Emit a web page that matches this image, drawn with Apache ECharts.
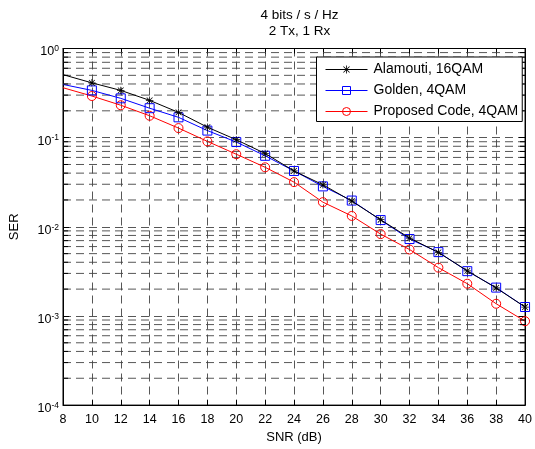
<!DOCTYPE html>
<html><head><meta charset="utf-8">
<script src="https://cdn.jsdelivr.net/npm/echarts@6/dist/echarts.min.js"></script>
<style>html,body{margin:0;padding:0;background:#fff}#c{width:535px;height:449px}</style>
</head><body><div id="c"></div>
<script>
var snr = [8,10,12,14,16,18,20,22,24,26,28,30,32,34,36,38,40];
var alamouti = [0.509,0.412,0.339,0.262,0.192,0.131,0.0948,0.0664,0.0423,0.0296,0.0194,0.0120,0.00748,0.00515,0.00321,0.00206,0.00126];
var golden   = [0.395,0.339,0.276,0.214,0.169,0.120,0.0893,0.0626,0.0423,0.0284,0.0197,0.0119,0.00729,0.00520,0.00318,0.00208,0.00126];
var proposed = [0.363,0.293,0.231,0.176,0.128,0.0908,0.0652,0.0465,0.0317,0.0189,0.01324,0.00828,0.00556,0.00348,0.00230,0.00137,0.000873];
var seriesNames = ['Alamouti, 16QAM','Golden, 4QAM','Proposed Code, 4QAM'];
var titleLines = ['4 bits / s / Hz','2 Tx, 1 Rx'];
var decades = [-4,-3,-2,-1];
var minorMult = [2,3,4,5,6,7,8,9];
var xRange = [8, 40];

var FONT = 'Liberation Sans, Arial, sans-serif';
var starPath = 'path://M0,4.5H10V5.5H0Z M4.5,0H5.5V10H4.5Z M1.5,0.8L9.2,8.5L8.5,9.2L0.8,1.5Z M8.5,0.8L9.2,1.5L1.5,9.2L0.8,8.5Z';
var dash = [8,5];
var gridColor = '#444';
var gridWidth = 0.9;
var minorTickFrac = 0.011; // minor tick length as a fraction of x range

function pts(arr){
  return snr.map(function(x,i){
    var d = {value:[x, arr[i]]};
    if (i === 0) d.symbol = 'none';
    return d;
  });
}
var tl = (xRange[1]-xRange[0]) * minorTickFrac;
var minorSeries = [];
decades.forEach(function(e){
  minorMult.forEach(function(m){
    var v = m*Math.pow(10,e);
    minorSeries.push({
      type: 'line', silent: true, z: 1, symbol: 'none', legendHoverLink: false,
      data: [[xRange[0], v], [xRange[1], v]],
      lineStyle: {color: gridColor, type: dash, width: gridWidth}
    });
    minorSeries.push({
      type: 'line', silent: true, z: 6, symbol: 'none',
      data: [[xRange[0], v], [xRange[0] + tl, v]],
      lineStyle: {color: '#000', width: 1}
    });
    minorSeries.push({
      type: 'line', silent: true, z: 6, symbol: 'none',
      data: [[xRange[1] - tl, v], [xRange[1], v]],
      lineStyle: {color: '#000', width: 1}
    });
  });
});

var chart = echarts.init(document.getElementById('c'), null, {renderer:'canvas'});
var yLabel = {
  fontFamily: FONT, color:'#000', margin: 4, padding: [6,0,0,0],
  formatter: function(v){ var e = Math.round(Math.log10(v)); return '{b|10}{s|' + e + '}'; },
  rich: {
    b: {fontSize: 12.5, fontFamily: FONT, color:'#000', lineHeight: 14, verticalAlign:'bottom'},
    s: {fontSize: 8.5, fontFamily: FONT, color:'#000', lineHeight: 14, verticalAlign:'top', padding:[0,0,5,0]}
  }
};
var mainSeries = [
  {
    name: seriesNames[0], type: 'line', data: pts(alamouti), z: 5,
    symbol: starPath, symbolSize: 7.5,
    lineStyle: {color:'#000', width: 1}, itemStyle: {color:'#000'}
  },
  {
    name: seriesNames[1], type: 'line', data: pts(golden), z: 4,
    symbol: 'rect', symbolSize: 9,
    lineStyle: {color:'#0000ff', width: 1},
    itemStyle: {color:'rgba(0,0,0,0)', borderColor:'#0000ff', borderWidth: 1}
  },
  {
    name: seriesNames[2], type: 'line', data: pts(proposed), z: 3,
    symbol: 'circle', symbolSize: 9,
    lineStyle: {color:'#ff0000', width: 1},
    itemStyle: {color:'rgba(0,0,0,0)', borderColor:'#ff0000', borderWidth: 1}
  }
];
chart.setOption({
  animation: false,
  backgroundColor: '#fff',
  title: {
    text: titleLines.join('\n'),
    left: 294.5, top: 2.5, textAlign: 'center',
    textStyle: {fontFamily: FONT, fontSize: 13.5, fontWeight: 'normal', color:'#000', lineHeight: 16}
  },
  legend: {
    orient: 'vertical', left: 316.5, top: 57, z: 20,
    data: seriesNames,
    backgroundColor: '#fff', borderColor: '#000', borderWidth: 1,
    padding: [5.5, 4, 3, 8.5], itemGap: 7, itemWidth: 42, itemHeight: 10,
    lineStyle: {width: 1},
    itemStyle: {borderWidth: 1},
    textStyle: {fontFamily: FONT, fontSize: 14, color: '#000', padding:[0,0,0,1], lineHeight: 14}
  },
  grid: {left: 60, right: 6, top: 48.5, bottom: 39, show: true, borderColor:'#000', borderWidth: 1, backgroundColor:'#fff'},
  xAxis: [{
    type: 'value', min: xRange[0], max: xRange[1], interval: 2,
    name: 'SNR (dB)', nameLocation: 'middle', nameGap: 25,
    nameTextStyle: {fontFamily: FONT, fontSize: 13, color:'#000'},
    axisLine: {show: true, onZero: false, lineStyle: {color:'#000'}},
    axisTick: {show: true, inside: true, length: 5, lineStyle:{color:'#000'}},
    axisLabel: {fontFamily: FONT, fontSize: 12.5, color:'#000', margin: 8},
    splitLine: {show: true, lineStyle: {color: gridColor, type: dash, width: gridWidth}}
  },{
    type: 'value', min: xRange[0], max: xRange[1], interval: 2, position: 'top',
    axisLine: {show: true, onZero:false, lineStyle: {color:'#000'}},
    axisTick: {show: true, inside: true, length: 5, lineStyle:{color:'#000'}},
    axisLabel: {show: false}, splitLine: {show: false}
  }],
  yAxis: [{
    type: 'log', logBase: 10, min: 1e-4, max: 1,
    name: 'SER', nameLocation: 'middle', nameGap: 42,
    nameTextStyle: {fontFamily: FONT, fontSize: 13, color:'#000'},
    axisLine: {show: true, onZero: false, lineStyle: {color:'#000'}},
    axisTick: {show: true, inside: true, length: 6, lineStyle:{color:'#000'}},
    axisLabel: yLabel,
    splitLine: {show: true, lineStyle: {color: gridColor, type: dash, width: gridWidth}}
  },{
    type: 'log', logBase: 10, min: 1e-4, max: 1, position: 'right',
    axisLine: {show: true, onZero:false, lineStyle: {color:'#000'}},
    axisTick: {show: true, inside: true, length: 6, lineStyle:{color:'#000'}},
    axisLabel: {show: false}, splitLine: {show: false}
  }],
  series: minorSeries.concat(mainSeries)
});
</script></body></html>
